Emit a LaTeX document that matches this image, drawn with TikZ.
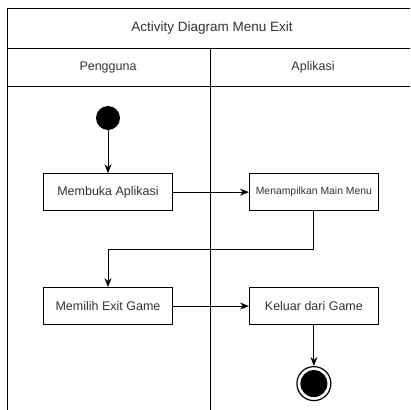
\documentclass[tikz,border=0pt]{standalone}
\usepackage{fontspec}
\setmainfont{Liberation Sans}
\usetikzlibrary{positioning,arrows.meta}

\begin{document}
\begin{tikzpicture}[
  x=1pt, y=-1pt,
  >={Stealth[length=9pt, width=7pt]},
  node distance=76pt,
  act/.style={draw, line width=0.9pt, fill=white, minimum width=129pt, minimum height=37pt,
              inner sep=2pt, text=black!80, font=\fontsize{12.5}{15}\selectfont},
  actsmall/.style={act, font=\fontsize{10.4}{12}\selectfont},
  init/.style={circle, fill=black, minimum size=24pt, inner sep=0pt},
  final/.style={circle, draw, line width=1.2pt, minimum size=34pt, inner sep=0pt,
                path picture={\fill (path picture bounding box.center) circle (13.5pt);}},
  hdr/.style={text=black!80, font=\fontsize{12.5}{15}\selectfont},
  rel/.style={->, line width=0.9pt},
  lane/.style={line width=0.9pt}
]
\useasboundingbox (0,0) rectangle (410,410);
\clip (0,0) rectangle (410,410);

% swimlanes
\draw[lane] (7,420) |- (420,8);
\draw[lane] (7,48) -- (420,48);
\draw[lane] (7,86) -- (420,86);
\draw[lane] (210,48) -- (210,420);
\node[hdr, font=\fontsize{13.5}{16}\selectfont] (title) at (212,28) {Activity Diagram Menu Exit};
\node[hdr] (user) at (108,67) {Pengguna};
\node[hdr] (app)  at (313,67) {Aplikasi};

% activities
\node[init] (start) at (108,118) {};
\node[act, below=43pt of start]   (open)   {Membuka Aplikasi};
\node[actsmall, right=of open]    (menu)   {Menampilkan Main Menu};
\node[act, below=of open]         (choose) {Memilih Exit Game};
\node[act, right=of choose]       (quit)   {Keluar dari Game};
\node[final, below=41pt of quit]  (stop)   {};

\draw[rel] (start) -- (open);
\draw[rel] (open) -- (menu);
\draw[rel] (menu.south) -- ++(0,38) -| (choose.north);
\draw[rel] (choose) -- (quit);
\draw[rel] (quit) -- (stop);
\end{tikzpicture}
\end{document}
